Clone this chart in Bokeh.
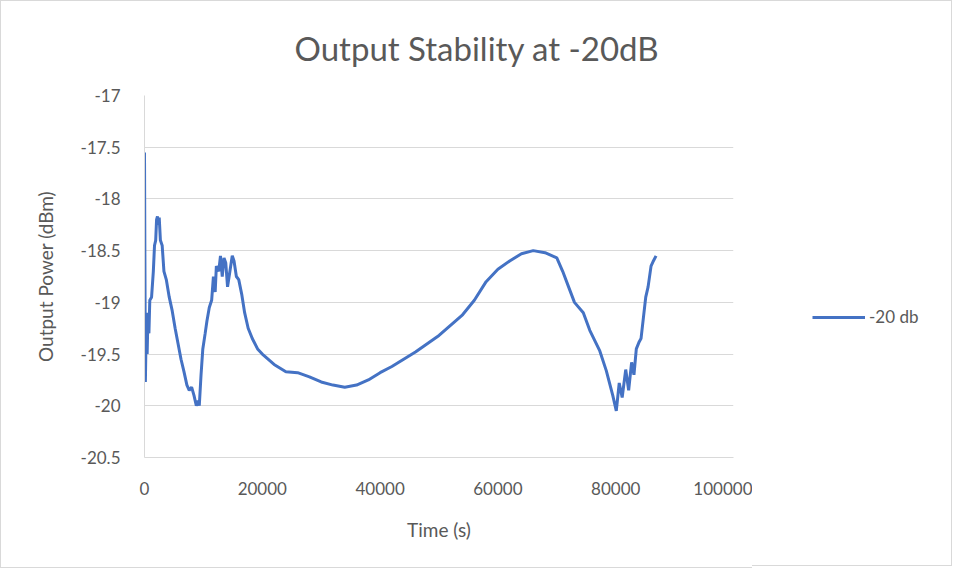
from bokeh.plotting import figure
from bokeh.layouts import row
from bokeh.models import ColumnDataSource, Range1d, Legend, LegendItem, FixedTicker, CustomJSTickFormatter
from bokeh.embed import file_html
from bokeh.resources import INLINE

# ---- data ----
time_s = [0, 150, 300, 450, 600, 750, 900, 1200, 1500, 1700, 1900, 2050, 2200, 2350, 2500,
          2700, 3000, 3300, 3700, 4200, 4700, 5200, 5700, 6200, 6700, 7200, 7600, 8000, 8400,
          8800, 9100, 9300, 9600, 9900, 10300, 10600, 11000, 11400, 11700, 12000, 12200, 12600,
          12900, 13200, 13500, 13800, 14100, 14500, 14900, 15200, 15600, 16000, 16500, 17000,
          17600, 18300, 19200, 20000, 22000, 24000, 26000, 28000, 30000, 32000, 34000, 36000,
          38000, 40000, 42000, 44000, 46000, 48000, 50000, 52000, 54000, 56000, 58000, 60000,
          62000, 64000, 66000, 68000, 70000, 71000, 72000, 73000, 74500, 75600, 77300, 78400,
          79500, 80100, 80600, 81100, 81700, 82200, 82700, 83100, 83500, 84000, 84300, 84700,
          85100, 85500, 86000, 86400, 86850]
power_dbm = [-17.55, -19.77, -19.2, -19.5, -19.1, -19.3, -18.98, -18.95, -18.7, -18.45, -18.4,
             -18.2, -18.17, -18.25, -18.18, -18.4, -18.45, -18.7, -18.78, -18.95, -19.08, -19.25,
             -19.4, -19.55, -19.67, -19.8, -19.85, -19.82, -19.9, -20.0, -19.95, -20.0, -19.7,
             -19.45, -19.3, -19.18, -19.05, -18.98, -18.75, -18.9, -18.65, -18.7, -18.55, -18.75,
             -18.57, -18.62, -18.85, -18.7, -18.55, -18.6, -18.75, -18.78, -18.92, -19.1, -19.25,
             -19.35, -19.45, -19.5, -19.6, -19.67, -19.68, -19.72, -19.77, -19.8, -19.82, -19.8,
             -19.75, -19.68, -19.62, -19.55, -19.48, -19.4, -19.32, -19.22, -19.12, -18.98, -18.8,
             -18.68, -18.6, -18.53, -18.5, -18.52, -18.57, -18.7, -18.85, -19.0, -19.1, -19.27,
             -19.47, -19.66, -19.9, -20.05, -19.78, -19.92, -19.65, -19.85, -19.58, -19.7, -19.45,
             -19.38, -19.35, -19.15, -18.95, -18.85, -18.65, -18.6, -18.55]
series_name = "-20 db"
x_ticks = [0, 20000, 40000, 60000, 80000, 100000]
y_ticks = [-20.5, -20, -19.5, -19, -18.5, -18, -17.5, -17]

FONT = "Lato"
GREY = "#595959"
LINE = "#4472C4"
BORDER = "1px solid #d9d9d9"

src = ColumnDataSource(data=dict(t=time_s, p=power_dbm))

p = figure(frame_width=588, frame_height=360, output_backend="svg", toolbar_location=None,
           x_range=Range1d(0, 100000), y_range=Range1d(-20.5, -17),
           min_border_left=143, min_border_right=20, min_border_top=94, min_border_bottom=112)
p.styles = {"border-top": BORDER, "border-left": BORDER, "border-bottom": BORDER}

r = p.line("t", "p", source=src, line_color=LINE, line_width=3)

p.title.text = "Output Stability at -20dB"
p.title.text_font = FONT
p.title.text_font_size = "33px"
p.title.text_font_style = "normal"
p.title.text_color = GREY
p.title.align = "left"
p.title.vertical_align = "top"
p.title.offset = 150
p.title.standoff = 52

p.xaxis.ticker = FixedTicker(ticks=x_ticks)
p.yaxis.ticker = FixedTicker(ticks=y_ticks)
p.yaxis.formatter = CustomJSTickFormatter(code="return tick.toString();")
p.xaxis.formatter = CustomJSTickFormatter(code="return tick.toString();")

for ax in (p.xaxis, p.yaxis):
    ax.major_tick_line_color = None
    ax.minor_tick_line_color = None
    ax.major_tick_out = 0
    ax.major_tick_in = 0
    ax.minor_tick_out = 0
    ax.axis_line_color = "#d9d9d9"
    ax.major_label_text_font = FONT
    ax.major_label_text_font_size = "17px"
    ax.major_label_text_color = GREY
    ax.axis_label_text_font = FONT
    ax.axis_label_text_font_size = "19px"
    ax.axis_label_text_font_style = "normal"
    ax.axis_label_text_color = GREY

p.xaxis.axis_label = "Time (s)"
p.yaxis.axis_label = "Output Power (dBm)"
p.xaxis.major_label_standoff = 24
p.yaxis.major_label_standoff = 24
p.xaxis.axis_label_standoff = 20
p.yaxis.axis_label_standoff = 21

p.xgrid.grid_line_color = None
p.ygrid.grid_line_color = "#d9d9d9"
p.ygrid.ticker = FixedTicker(ticks=y_ticks)
p.outline_line_color = None

# legend panel (separate figure on the right so the legend is not clipped by the main frame)
leg = figure(width=200, height=566, output_backend="svg", toolbar_location=None,
             x_range=Range1d(0, 1), y_range=Range1d(0, 1), x_axis_type=None, y_axis_type=None,
             min_border_left=0, min_border_right=0, min_border_top=0, min_border_bottom=0)
leg.styles = {"border-top": BORDER, "border-right": BORDER, "border-bottom": BORDER}
leg.xgrid.grid_line_color = None
leg.ygrid.grid_line_color = None
leg.outline_line_color = None
# same series, outside this panel's ranges: only its legend swatch is visible
swatch = leg.line("t", "p", source=src, line_color=LINE, line_width=3)

legend = Legend(items=[LegendItem(label=series_name, renderers=[swatch])],
                location=(60, 128), glyph_width=53, label_standoff=4,
                padding=0, margin=0, border_line_color=None, background_fill_alpha=0,
                label_text_font=FONT, label_text_font_size="17px", label_text_color=GREY)
leg.add_layout(legend, "center")

layout = row(p, leg)
open("out.html", "w").write(file_html(layout, INLINE))
